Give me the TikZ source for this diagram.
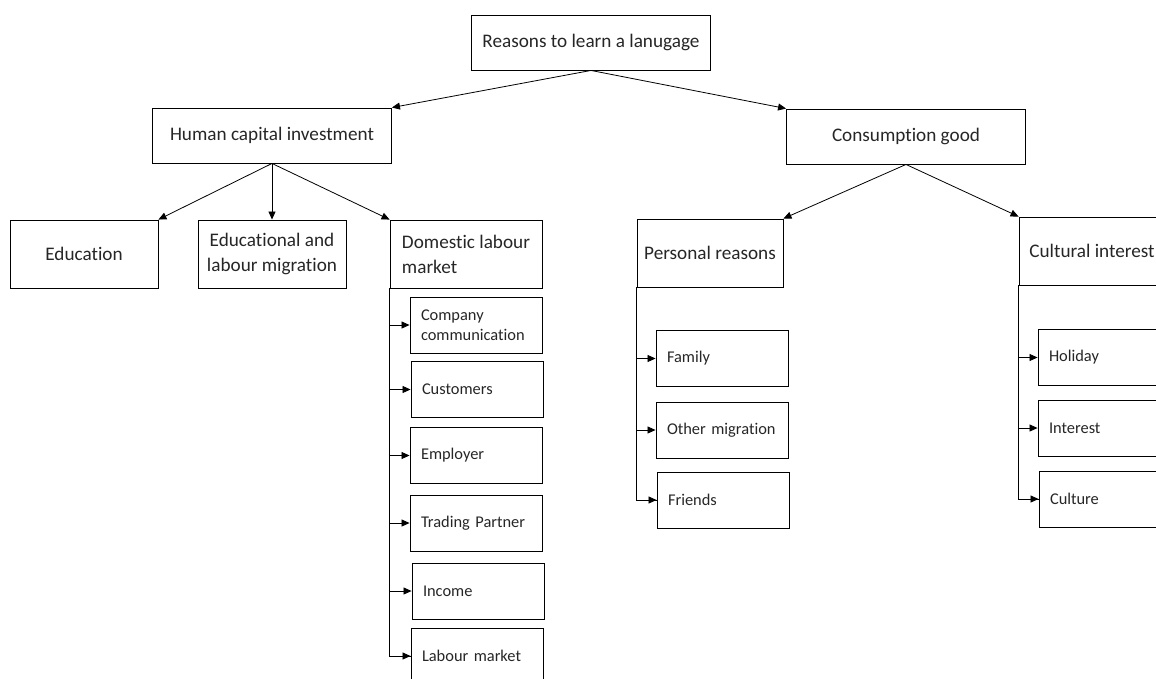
\documentclass[tikz,border=0pt]{standalone}
\usepackage{fontspec}
\setmainfont{Carlito}[Ligatures=NoCommon]
\usetikzlibrary{arrows.meta}

\begin{document}
\begin{tikzpicture}[x=1pt, y=-1pt,
	box/.style = {draw, line width=0.9pt, inner sep=0pt, text=black!85, font=\fontsize{19.2}{25}\selectfont},
	top/.style = {box, minimum width=239pt, minimum height=55pt},
	mid/.style = {box, minimum height=68pt},
	sub/.style = {draw, line width=0.9pt, minimum width=132pt, minimum height=56pt,
		text width=110pt, align=left, inner xsep=11pt, inner ysep=0pt, text=black!85,
		font=\fontsize{16.4}{20}\selectfont},
	arr/.style = {line width=0.8pt, -{Triangle[length=8pt, width=7pt]}}]
				\useasboundingbox (0,0) rectangle (1156,678);
				\clip (0,0) rectangle (1156,678);

				\node[top] (root) at (591,42.5) {Reasons to learn a lanugage};
				\node[top] (hci) at (272,135.5) {Human capital investment};
				\node[top] (cons) at (906,136.5) {Consumption good};

				\node[mid, minimum width=148pt] (edu) at (84,254) {Education};
				\node[mid, minimum width=148pt, align=center] (mig) at (272,254) {Educational and\\labour migration};
				\node[mid, minimum width=152pt, align=left] (dlm) at (466,254) {Domestic labour\\market};
				\node[mid, minimum width=146pt] (pers) at (710,253) {Personal reasons};
				\node[mid, minimum width=146pt] (cult) at (1092,251) {Cultural interest};

				\node[sub] (comp) at (476,325) {Company\\communication};
				\node[sub] (cust) at (477,389.5) {Customers};
				\node[sub] (empl) at (476,455.5) {Employer};
				\node[sub] (trade) at (476,523) {Trading Partner};
				\node[sub] (inc) at (478,591) {Income};
				\node[sub] (lab) at (477,656) {Labour market};

				\node[sub] (fam) at (722,358.5) {Family};
				\node[sub] (omig) at (722,430) {Other migration};
				\node[sub] (fri) at (723,500) {Friends};

				\node[sub] (hol) at (1104,357.5) {Holiday};
				\node[sub] (int) at (1104,428) {Interest};
				\node[sub] (cul) at (1105,499) {Culture};

				\draw[arr] (root.south) to (hci.north east);
				\draw[arr] (root.south) to (cons.north west);

				\draw[arr] (hci.south) to (edu.north east);
				\draw[arr] (hci.south) to (mig.north);
				\draw[arr] (hci.south) to (dlm.north west);

				\draw[arr] (cons.south) to (pers.north east);
				\draw[arr] (cons.south) to (cult.north west);

				\draw[line width=0.8pt] (dlm.south west) |- (lab.west);
				\foreach \n in {comp, cust, empl, trade, inc, lab}
					\draw[arr] (dlm.south west |- \n.west) to (\n.west);

				\draw[line width=0.8pt] (pers.south west) |- (fri.west);
				\foreach \n in {fam, omig, fri}
					\draw[arr] (pers.south west |- \n.west) to (\n.west);

				\draw[line width=0.8pt] (cult.south west) |- (cul.west);
				\foreach \n in {hol, int, cul}
					\draw[arr] (cult.south west |- \n.west) to (\n.west);

			\end{tikzpicture}
\end{document}
